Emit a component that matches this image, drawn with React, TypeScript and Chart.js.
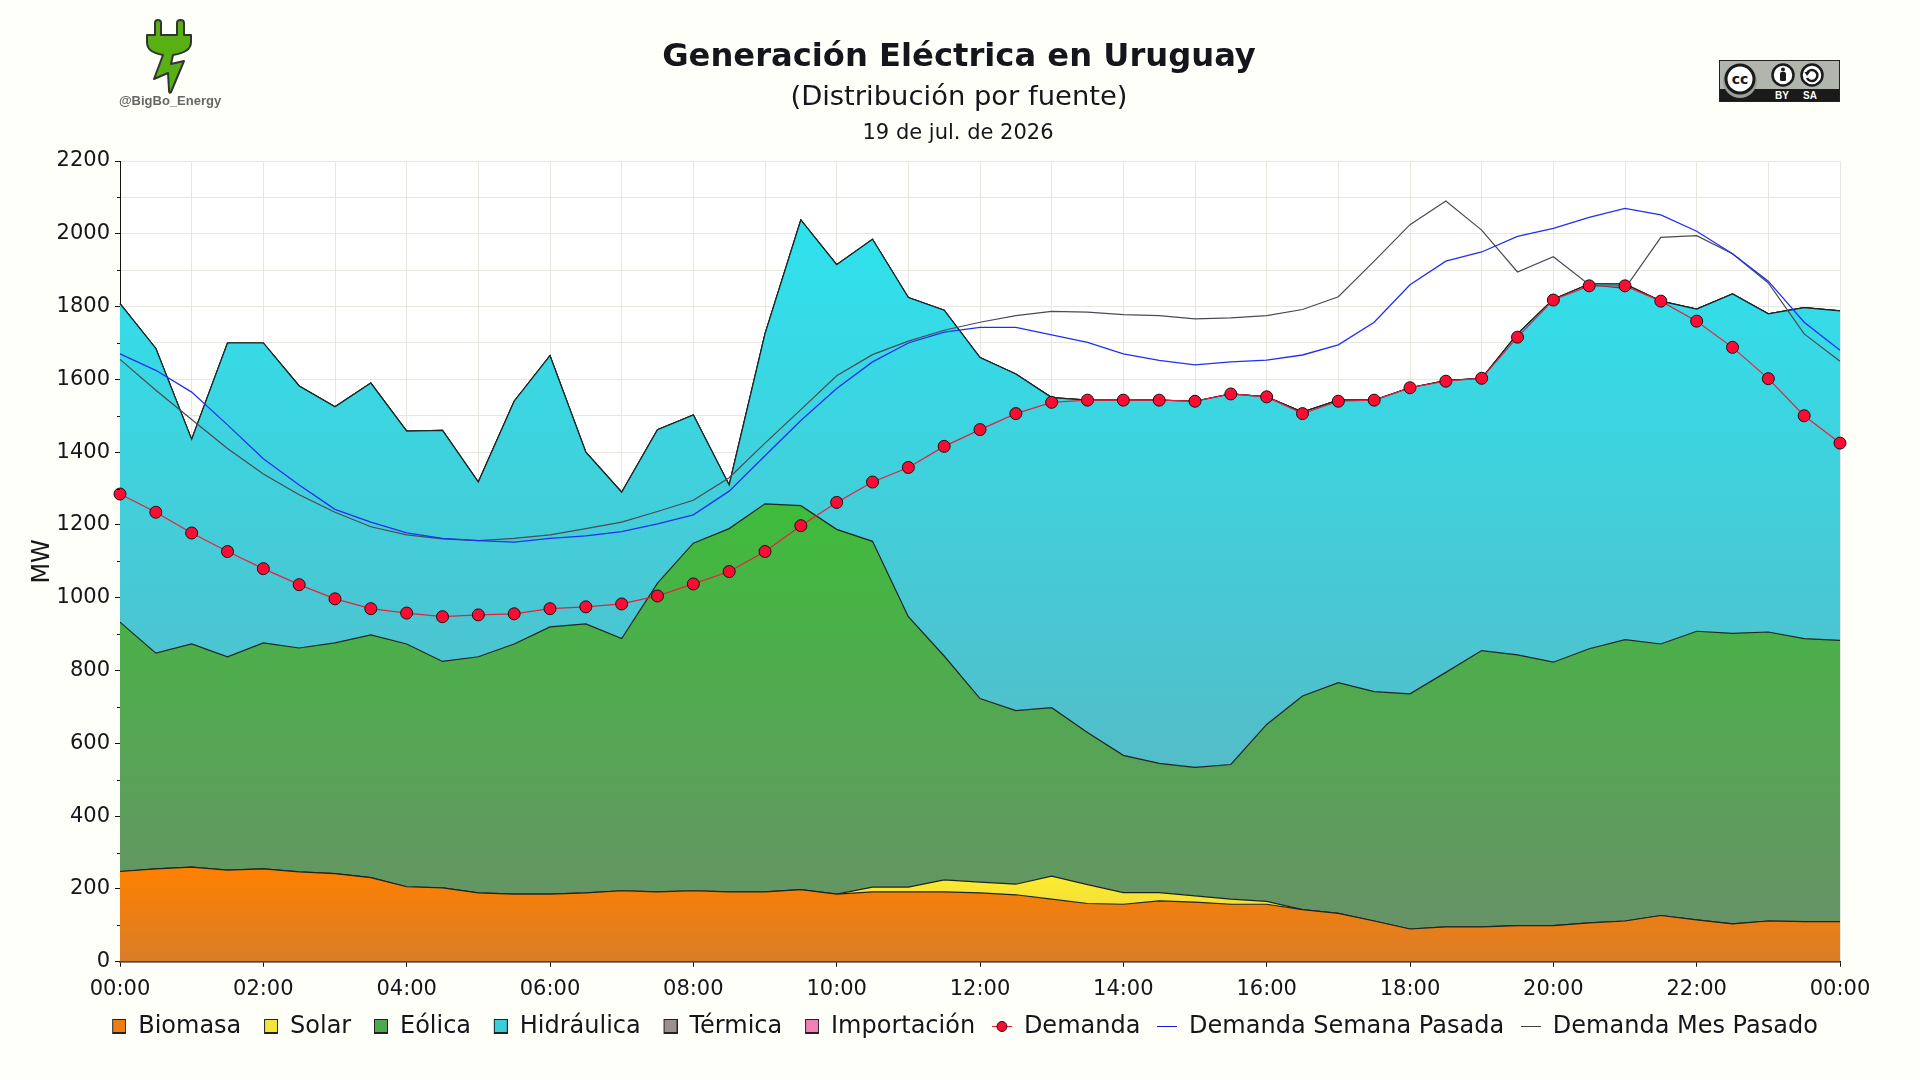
import React, { useEffect, useRef } from "react";
import { Chart, registerables } from "chart.js";

Chart.register(...registerables);

// ── Data (MW, every 30 minutes) ───────────────────────────────
const labels = [
  "00:00", "00:30", "01:00", "01:30", "02:00", "02:30", "03:00", "03:30", "04:00", "04:30",
  "05:00", "05:30", "06:00", "06:30", "07:00", "07:30", "08:00", "08:30", "09:00", "09:30",
  "10:00", "10:30", "11:00", "11:30", "12:00", "12:30", "13:00", "13:30", "14:00", "14:30",
  "15:00", "15:30", "16:00", "16:30", "17:00", "17:30", "18:00", "18:30", "19:00", "19:30",
  "20:00", "20:30", "21:00", "21:30", "22:00", "22:30", "23:00", "23:30", "00:00",
];
const biomasa = [
  248, 255, 260, 252, 255, 247, 242, 231, 206, 203, 189, 186, 186, 189, 195, 192, 195, 192, 192, 198,
  186, 192, 192, 192, 189, 184, 172, 160, 158, 167, 164, 158, 158, 143, 133, 112, 90, 96, 96, 99,
  99, 107, 112, 127, 115, 104, 112, 110, 110,
];
const solar = [
  0, 0, 0, 0, 0, 0, 0, 0, 0, 0, 0, 0, 0, 0, 0, 0, 0, 0, 0, 0,
  0, 13, 13, 33, 30, 29, 63, 52, 32, 23, 17, 14, 8, 0, 0, 0, 0, 0, 0, 0,
  0, 0, 0, 0, 0, 0, 0, 0, 0,
];
const eolica = [
  685, 593, 613, 586, 621, 615, 634, 667, 667, 622, 649, 687, 734, 739, 693, 848, 955, 998, 1066, 1055,
  1002, 950, 743, 615, 504, 477, 463, 418, 377, 355, 353, 370, 486, 587, 634, 630, 646, 699, 759, 744,
  724, 753, 773, 746, 793, 798, 794, 778, 773,
];
const hidraulica = [
  875, 837, 562, 862, 824, 720, 649, 692, 585, 635, 480, 667, 745, 472, 402, 422, 352, 120, 467, 785,
  727, 830, 877, 950, 937, 925, 852, 913, 976, 998, 1006, 1018, 900, 780, 776, 801, 841, 802, 748, 882,
  997, 1002, 977, 942, 885, 933, 874, 909, 905,
];
const termica = [
  0, 0, 0, 0, 0, 0, 0, 0, 0, 0, 0, 0, 0, 0, 0, 0, 0, 0, 0, 0,
  0, 0, 0, 0, 0, 0, 0, 0, 0, 0, 0, 0, 0, 0, 0, 0, 0, 0, 0, 0,
  0, 0, 0, 0, 0, 0, 0, 0, 0,
];
const importacion = [
  0, 0, 0, 0, 0, 0, 0, 0, 0, 0, 0, 0, 0, 0, 0, 0, 0, 0, 0, 0,
  0, 0, 0, 0, 0, 0, 0, 0, 0, 0, 0, 0, 0, 0, 0, 0, 0, 0, 0, 0,
  0, 0, 0, 0, 0, 0, 0, 0, 0,
];
const demanda = [
  1285, 1235, 1178, 1127, 1080, 1036, 997, 970, 958, 948, 953, 956, 970, 975, 983, 1005, 1038, 1072, 1127, 1198,
  1262, 1318, 1358, 1416, 1462, 1506, 1537, 1543, 1543, 1543, 1540, 1560, 1552, 1506, 1540, 1543, 1577, 1595, 1603, 1716,
  1818, 1857, 1857, 1815, 1760, 1688, 1602, 1500, 1425,
];
const semanaPasada = [
  1670, 1625, 1565, 1475, 1382, 1310, 1243, 1208, 1178, 1163, 1157, 1153, 1163, 1170, 1182, 1203, 1228, 1293, 1390, 1487,
  1575, 1648, 1700, 1730, 1743, 1743, 1722, 1702, 1670, 1652, 1640, 1648, 1653, 1667, 1695, 1757, 1860, 1925, 1950, 1993,
  2015, 2045, 2070, 2052, 2007, 1945, 1870, 1757, 1680,
];
const mesPasado = [
  1655, 1570, 1490, 1410, 1340, 1283, 1235, 1195, 1173, 1162, 1157, 1163, 1173, 1190, 1208, 1237, 1268, 1330, 1425, 1517,
  1610, 1668, 1705, 1735, 1757, 1775, 1787, 1785, 1778, 1775, 1766, 1769, 1775, 1792, 1827, 1925, 2025, 2090, 2010, 1895,
  1937, 1860, 1850, 1990, 1995, 1945, 1865, 1725, 1650,
];

const PAGE_BG = "#fffffa";
const TEXT = "#14161c";
const FONT = "'DejaVu Sans', sans-serif";
const OUTLINE = "#1c2424";

// ── Helpers ───────────────────────────────────────────────────
// Vertical gradient from the top of a series down to the zero line
const areaFill = (top: string, bottom: string, peak: number) => (ctx: any) => {
  const { chart } = ctx;
  const y = chart.scales.y;
  if (!chart.chartArea || !y) return top;
  const g = chart.ctx.createLinearGradient(0, y.getPixelForValue(peak), 0, y.getPixelForValue(0));
  g.addColorStop(0, top);
  g.addColorStop(1, bottom);
  return g;
};

// Legend box is 20 wide, the square sits at its right end so the gap to the text matches
function swatch(color: string) {
  const c = document.createElement("canvas");
  c.width = 20;
  c.height = 15;
  const x = c.getContext("2d")!;
  x.translate(6, 0);
  x.fillStyle = color;
  x.fillRect(1, 1, 12, 13);
  x.strokeStyle = "#222";
  x.lineWidth = 1;
  x.beginPath();
  x.moveTo(1, 0.5);
  x.lineTo(13, 0.5);
  x.moveTo(0.5, 0);
  x.lineTo(0.5, 15);
  x.moveTo(13.5, 0);
  x.lineTo(13.5, 15);
  x.stroke();
  x.lineWidth = 2;
  x.beginPath();
  x.moveTo(0, 14);
  x.lineTo(14, 14);
  x.stroke();
  return c;
}

function lineMark(color: string, marker: boolean) {
  const c = document.createElement("canvas");
  c.width = 20;
  c.height = 13;
  const x = c.getContext("2d")!;
  x.strokeStyle = color;
  x.lineWidth = 1;
  x.beginPath();
  x.moveTo(0, 6.5);
  x.lineTo(20, 6.5);
  x.stroke();
  if (marker) {
    x.fillStyle = "#ff0a32";
    x.strokeStyle = "#111";
    x.beginPath();
    x.arc(10, 6.5, 5, 0, Math.PI * 2);
    x.fill();
    x.stroke();
  }
  return c;
}

// ── Small plugins ─────────────────────────────────────────────
const plotBackground = {
  id: "plotBackground",
  beforeDraw(chart: any) {
    const { ctx, chartArea: a } = chart;
    ctx.save();
    ctx.fillStyle = "#ffffff";
    ctx.fillRect(a.left, a.top, a.width, a.height);
    ctx.restore();
  },
};

const minorTicks = {
  id: "minorTicks",
  afterDraw(chart: any) {
    const { ctx, scales } = chart;
    ctx.save();
    ctx.strokeStyle = "#111";
    ctx.lineWidth = 1;
    ctx.beginPath();
    scales.y.ticks.forEach((t: any) => {
      if (t.value % 200 === 0) return;
      const py = Math.round(scales.y.getPixelForValue(t.value)) + 0.5;
      ctx.moveTo(scales.y.right - 3, py);
      ctx.lineTo(scales.y.right, py);
    });
    ctx.stroke();
    ctx.restore();
  },
};

// Three header lines centred on the page
const header = {
  id: "header",
  afterDraw(chart: any) {
    const { ctx } = chart;
    ctx.save();
    ctx.fillStyle = TEXT;
    ctx.textAlign = "center";
    ctx.textBaseline = "middle";
    ctx.font = `bold 32.2px ${FONT}`;
    ctx.fillText("Generación Eléctrica en Uruguay", 959, 58);
    ctx.font = `27.4px ${FONT}`;
    ctx.fillText("(Distribución por fuente)", 959, 98);
    ctx.font = `21px ${FONT}`;
    ctx.fillText("19 de jul. de 2026", 958, 134);
    ctx.restore();
  },
};

// ── Logo and licence badge ────────────────────────────────────
const Logo: React.FC = () => (
  <svg width={260} height={120} style={{ position: "absolute", left: 0, top: 0 }}>
    <path
      d="M155 35 V23 q0 -3 3 -3 q3 0 3 3 V35 H177 V23 q0 -3 3.5 -3 q3.5 0 3.5 3 V35 H191 V42 C191 50 184 53 173 55 L171 64 L184 61 L171 92 Q169 94 169 90 L168 73 L154 79 L163 55 C153 53 147 50 147 42 V35 Z"
      fill="#58b015"
      stroke="#333"
      strokeWidth={2}
      strokeLinejoin="round"
    />
    <text x={170} y={105} textAnchor="middle" fontFamily="'Liberation Sans', sans-serif" fontSize={13} fontWeight="bold" fill="#666">
      @BigBo_Energy
    </text>
  </svg>
);

const CcBadge: React.FC = () => (
  <svg width={121} height={42} style={{ position: "absolute", left: 1719, top: 60 }}>
    <rect x={0} y={0} width={121} height={42} fill="#b0b5ae" />
    <rect x={0} y={29} width={121} height={13} fill="#1a1a1a" />
    <rect x={0.5} y={0.5} width={120} height={41} fill="none" stroke="#222" />
    <circle cx={21} cy={21} r={17} fill="#9a9e98" />
    <circle cx={21} cy={19} r={14} fill="#fff" stroke="#1a1a1a" strokeWidth={3} />
    <text x={21} y={24} textAnchor="middle" fontFamily="'DejaVu Sans', sans-serif" fontWeight="bold" fontSize={14} fill="#1a1a1a">
      cc
    </text>
    <circle cx={64} cy={15} r={10.5} fill="#fff" stroke="#1a1a1a" strokeWidth={2.5} />
    <circle cx={64} cy={9.5} r={2} fill="#1a1a1a" />
    <rect x={61} y={12} width={6} height={9} rx={1.5} fill="#1a1a1a" />
    <circle cx={93} cy={15} r={10.5} fill="#fff" stroke="#1a1a1a" strokeWidth={2.5} />
    <path d="M88 13 A5.5 5.5 0 1 1 88 18" fill="none" stroke="#1a1a1a" strokeWidth={2.5} />
    <path d="M85.5 12 L91 12 L88 16 Z" fill="#1a1a1a" />
    <text x={63} y={39} textAnchor="middle" fontFamily="'Liberation Sans', sans-serif" fontWeight="bold" fontSize={10} fill="#fff">
      BY
    </text>
    <text x={91} y={39} textAnchor="middle" fontFamily="'Liberation Sans', sans-serif" fontWeight="bold" fontSize={10} fill="#fff">
      SA
    </text>
  </svg>
);

// ── Main component ────────────────────────────────────────────
const App: React.FC = () => {
  const canvasRef = useRef<HTMLCanvasElement>(null);

  useEffect(() => {
    document.body.style.margin = "0";
    document.body.style.background = PAGE_BG;
    if (!canvasRef.current) return;

    const area = (label: string, data: number[], fill: string | boolean, bg: any) => ({
      label,
      data,
      stack: "fuentes",
      fill,
      backgroundColor: bg,
      borderColor: OUTLINE,
      borderWidth: 1.2,
      pointRadius: 0,
      tension: 0,
      order: 0,
    });

    const marks = [
      swatch("#ee7d14"),
      swatch("#f5e33c"),
      swatch("#4ea84e"),
      swatch("#38cfd8"),
      swatch("#9a9090"),
      swatch("#f080b8"),
      lineMark("#e8203c", true),
      lineMark("#1a1ad0", false),
      lineMark("#444444", false),
    ];

    const chart = new Chart(canvasRef.current, {
      type: "line",
      data: {
        labels,
        datasets: [
          area("Biomasa", biomasa, "origin", areaFill("#ff8000", "#d97d28", 260)),
          area("Solar", solar, "-1", areaFill("#fdea2d", "#e0cf50", 235)),
          area("Eólica", eolica, "-1", areaFill("#3fbc3c", "#6a8f6a", 1258)),
          area("Hidráulica", hidraulica, "-1", areaFill("#2ee2ee", "#60b0bb", 2038)),
          area("Térmica", termica, "-1", "#9a9090"),
          area("Importación", importacion, "-1", "#f080b8"),
          {
            label: "Demanda",
            data: demanda,
            stack: "demanda",
            fill: false,
            borderColor: "#e8203c",
            backgroundColor: "#ff0a32",
            borderWidth: 1.2,
            pointRadius: 6,
            pointBorderColor: "#111",
            pointBorderWidth: 1,
            tension: 0,
            order: -3,
            clip: false,
          },
          {
            label: "Demanda Semana Pasada",
            data: semanaPasada,
            stack: "semana",
            fill: false,
            borderColor: "#2030f0",
            borderWidth: 1.3,
            pointRadius: 0,
            tension: 0,
            order: -2,
          },
          {
            label: "Demanda Mes Pasado",
            data: mesPasado,
            stack: "mes",
            fill: false,
            borderColor: "#484b52",
            borderWidth: 1.2,
            pointRadius: 0,
            tension: 0,
            order: -1,
          },
        ] as any,
      },
      options: {
        responsive: false,
        animation: false,
        devicePixelRatio: 1,
        layout: { padding: { top: 161, right: 10, bottom: 31.5, left: 14 } },
        plugins: {
          title: { display: false },
          tooltip: { enabled: false },
          legend: {
            position: "bottom",
            labels: {
              color: TEXT,
              font: { size: 24, family: FONT },
              usePointStyle: true,
              boxWidth: 20,
              boxHeight: 24,
              pointStyleWidth: 20,
              padding: 16.75,
              sort: (a: any, b: any) => a.datasetIndex - b.datasetIndex,
              generateLabels: (c: any) =>
                Chart.defaults.plugins.legend.labels.generateLabels(c).map((it: any) => ({
                  ...it,
                  pointStyle: marks[it.datasetIndex],
                  lineWidth: 0,
                })),
            },
          },
        },
        scales: {
          x: {
            type: "category",
            offset: false,
            border: { color: "#111", width: 1.5 },
            grid: {
              color: (c: any) => (c.index % 2 === 0 ? "#e8e6df" : "transparent"),
              tickColor: (c: any) => (c.index % 4 === 0 ? "#111" : "transparent"),
              tickLength: 5,
              lineWidth: 1,
            },
            ticks: {
              color: TEXT,
              font: { size: 21, family: FONT },
              autoSkip: false,
              maxRotation: 0,
              padding: 10,
              callback: (_v: any, i: number) => (i % 4 === 0 ? labels[i] : ""),
            },
            afterFit: (s: any) => {
              s.height = 36;
            },
          },
          y: {
            stacked: true,
            min: 0,
            max: 2200,
            border: { color: "#111", width: 1 },
            title: {
              display: true,
              text: "MW",
              color: TEXT,
              font: { size: 24, family: FONT },
              padding: { top: 14, bottom: 0 },
            },
            grid: {
              color: "#e8e6df",
              lineWidth: 1,
              tickLength: 5,
              tickColor: (c: any) => (c.tick && c.tick.value % 200 === 0 ? "#111" : "transparent"),
            },
            ticks: {
              color: TEXT,
              font: { size: 21, family: FONT },
              stepSize: 100,
              autoSkip: false,
              padding: 5,
              callback: (v: any) => (Number(v) % 200 === 0 ? String(v) : ""),
            },
            afterFit: (s: any) => {
              s.width = 106;
            },
          },
          // Empty axis on the right: keeps the plot clear of the page edge, legend stays centred
          spacer: {
            type: "linear",
            position: "right",
            border: { display: false },
            grid: { display: false },
            ticks: { display: false },
            afterFit: (s: any) => {
              s.width = 70;
            },
          },
        },
      },
      plugins: [plotBackground, minorTicks, header],
    } as any);

    return () => chart.destroy();
  }, []);

  return (
    <div style={{ position: "absolute", left: 0, top: 0, width: 1920, height: 1080, background: PAGE_BG }}>
      <canvas ref={canvasRef} width={1920} height={1080} style={{ display: "block" }} />
      <Logo />
      <CcBadge />
    </div>
  );
};

export default App;
